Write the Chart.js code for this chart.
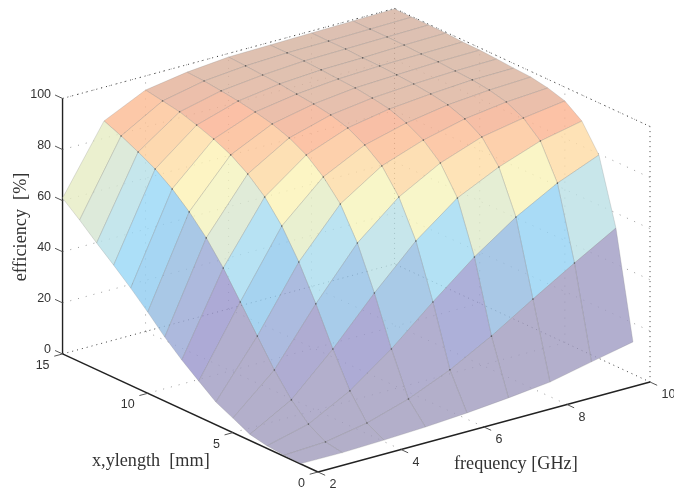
<!DOCTYPE html>
<html>
<head>
<meta charset="utf-8">
<style>
  html, body { margin: 0; padding: 0; background: #fff; }
  canvas { display: block; }
</style>
<script src="https://cdn.jsdelivr.net/npm/chart.js@4"></script>
</head>
<body>
<canvas id="myChart" width="674" height="493"></canvas>
<script>
const freqs = [2, 3, 4, 5, 6, 7, 8, 9, 10];
const lengths = [1, 2, 3, 4, 5, 6, 7, 8, 9, 10, 11, 12, 13, 14, 15];

// efficiency, one list per frequency, length 1..15
const eff2 = [0.2, 0.4, 1.0, 2.4, 5.7, 8.9, 14, 19.2, 25.1, 31.8, 38.1, 44, 49.6, 55.5, 61];
const eff3 = [0.1, 1.2, 5.1, 11.5, 20.1, 30.3, 40.6, 50.8, 59.5, 66.6, 72.5, 77.2, 80.8, 84, 86.8];
const eff4 = [0.6, 4.2, 13.7, 27, 41.6, 54.9, 65.9, 74.2, 80.1, 84.5, 87.6, 90, 92.1, 93.3, 94.5];
const eff5 = [1.3, 9.2, 25.7, 44.5, 61, 73.2, 80.7, 86.2, 89.8, 92.2, 93.8, 95, 95.9, 96.7, 97.1];
const eff6 = [2.4, 16.2, 39.7, 60.5, 74.6, 83.7, 88.8, 92.4, 94.4, 95.6, 96.4, 97.3, 97.7, 98.2, 98.6];
const eff7 = [3.9, 25, 52.9, 72.9, 83.5, 89.4, 93, 95.4, 96.6, 97.5, 97.9, 98.4, 98.8, 98.9, 98.9];
const eff8 = [5.7, 35.1, 64.1, 80.6, 89.3, 93.3, 95.7, 96.9, 97.7, 98.2, 98.6, 98.7, 99.1, 99.1, 99.2];
const eff9 = [9.2, 44.8, 73, 86.4, 92.3, 95.5, 97.1, 98, 98.4, 98.9, 98.9, 99.3, 99.4, 99.4, 99.5];
const eff10 = [12.6, 54.1, 79.6, 89.8, 94.6, 96.6, 97.8, 98.2, 98.7, 99.1, 99.2, 99.6, 99.7, 99.7, 99.8];
const effByFreq = [eff2, eff3, eff4, eff5, eff6, eff7, eff8, eff9, eff10];

const freqTicks = [2, 4, 6, 8, 10];
const lengthTicks = [0, 5, 10, 15];
const effTicks = [0, 20, 40, 60, 80, 100];

// colour stops for the pale jet look of the faces
const colorStops = [
  [0, 179, 175, 201], [9, 178, 175, 206], [14, 173, 170, 214], [19, 173, 184, 221],
  [25, 169, 200, 230], [32, 166, 214, 243], [38, 172, 223, 248], [44, 197, 230, 236],
  [50, 222, 234, 217], [55, 233, 240, 208], [60, 247, 246, 201], [66, 252, 245, 196],
  [72, 254, 229, 184], [77, 253, 217, 176], [84, 252, 200, 168], [88, 251, 191, 165],
  [92, 236, 191, 170], [96, 226, 193, 176], [100, 220, 192, 178],
];
const faceAlpha = 0.82;

function faceColor(z) {
  let i = 0;
  while (i < colorStops.length - 2 && z > colorStops[i + 1][0]) i++;
  const a = colorStops[i];
  const b = colorStops[i + 1];
  const t = Math.min(1, Math.max(0, (z - a[0]) / (b[0] - a[0])));
  const ch = [1, 2, 3].map(k => {
    const v = a[k] + (b[k] - a[k]) * t;
    return Math.round((v - 255 * (1 - faceAlpha)) / faceAlpha);
  });
  return `rgba(${ch[0]},${ch[1]},${ch[2]},${faceAlpha})`;
}

// fixed view of the box, Chart.js has no 3d axes
function project(f, l, z) {
  return {
    x: 318 + 41.5 * (f - 2) - 17.03 * l,
    y: 472 - 11.25 * (f - 2) - 7.87 * l - 2.555 * z,
  };
}

function lineSet(points, color, width, dash) {
  return {
    data: points,
    showLine: true,
    pointRadius: 0,
    borderColor: color,
    borderWidth: width,
    borderDash: dash || [],
    fill: false,
    tension: 0,
    clip: false,
  };
}

const sets = [];
const wallGrid = 'rgba(70,70,70,0.55)';
const boxDots = 'rgba(30,30,30,0.85)';

// walls and floor, behind the surface
effTicks.slice(1).forEach(z => {
  sets.push(lineSet([project(2, 15, z), project(10, 15, z), project(10, 0, z)], wallGrid, 1, [1, 7]));
});
freqTicks.slice(1, -1).forEach(f => {
  sets.push(lineSet([project(f, 15, 0), project(f, 15, 100)], wallGrid, 1, [1, 7]));
  sets.push(lineSet([project(f, 0, 0), project(f, 15, 0)], wallGrid, 1, [1, 7]));
});
lengthTicks.slice(1, -1).forEach(l => {
  sets.push(lineSet([project(10, l, 0), project(10, l, 100)], wallGrid, 1, [1, 7]));
  sets.push(lineSet([project(2, l, 0), project(10, l, 0)], wallGrid, 1, [1, 7]));
});
sets.push(lineSet([project(2, 15, 100), project(10, 15, 100), project(10, 0, 100), project(10, 0, 0)], boxDots, 1, [1, 4]));
sets.push(lineSet([project(2, 15, 0), project(10, 15, 0), project(10, 0, 0)], boxDots, 1, [1, 4]));
sets.push(lineSet([project(10, 15, 0), project(10, 15, 100)], boxDots, 1, [1, 4]));

// solid axes with their ticks
const axisColor = '#222';
sets.push(lineSet([project(2, 15, 0), project(2, 15, 100)], axisColor, 1.4));
sets.push(lineSet([project(2, 0, 0), project(2, 15, 0)], axisColor, 1.4));
sets.push(lineSet([project(2, 0, 0), project(10, 0, 0)], axisColor, 1.4));
const tickColor = '#555';
effTicks.forEach(z => sets.push(lineSet([project(2, 15, z), project(2, 15.44, z)], tickColor, 1)));
lengthTicks.forEach(l => sets.push(lineSet([project(2, l, 0), project(1.8, l, 0)], tickColor, 1)));
freqTicks.forEach(f => sets.push(lineSet([project(f, 0, 0), project(f, -0.42, 0)], tickColor, 1)));

// surface faces, far ones first. A face takes the colour of its lowest corner
for (let j = lengths.length - 2; j >= 0; j--) {
  for (let i = freqs.length - 2; i >= 0; i--) {
    const corners = [
      project(freqs[i], lengths[j], effByFreq[i][j]),
      project(freqs[i + 1], lengths[j], effByFreq[i + 1][j]),
      project(freqs[i + 1], lengths[j + 1], effByFreq[i + 1][j + 1]),
      project(freqs[i], lengths[j + 1], effByFreq[i][j + 1]),
      project(freqs[i], lengths[j], effByFreq[i][j]),
    ];
    const face = lineSet(corners, 'rgba(120,120,120,0.28)', 0.8);
    face.fill = 'shape';
    face.backgroundColor = faceColor(effByFreq[i][j]);
    sets.push(face);
  }
}

// small dark dots on the mesh corners
const meshDots = [];
freqs.slice(1, -1).forEach(f => {
  lengths.slice(1, -1).forEach(l => {
    meshDots.push(project(f, l, effByFreq[freqs.indexOf(f)][lengths.indexOf(l)]));
  });
});
sets.push({ data: meshDots, pointRadius: 0.8, pointBorderWidth: 0, backgroundColor: 'rgba(40,40,40,0.6)', clip: false });

// last in the list has to paint last
sets.forEach((s, i) => { s.order = sets.length - i; });

const textPlugin = {
  id: 'boxText',
  afterDraw(chart) {
    const c = chart.ctx;
    const sx = chart.scales.x;
    const sy = chart.scales.y;
    const put = (text, p, dx, dy, align) => {
      c.textAlign = align;
      c.fillText(text, sx.getPixelForValue(p.x) + dx, sy.getPixelForValue(p.y) + dy);
    };
    c.save();
    c.fillStyle = '#333';
    c.textBaseline = 'middle';
    c.font = '12.5px "Liberation Sans"';
    effTicks.forEach(z => put(String(z), project(2, 15, z), -11.5, -4, 'right'));
    lengthTicks.forEach(l => put(String(l), project(2, l, 0), -13, 11.5, 'right'));
    freqTicks.forEach(f => put(String(f), project(f, 0, 0), 11.5, 13, 'left'));

    c.textBaseline = 'alphabetic';
    c.font = '18.2px "Liberation Serif"';
    c.textAlign = 'left';
    c.fillText('x,ylength  [mm]', 92, 466);
    c.fillText('frequency [GHz]', 454, 469);
    c.translate(26, 227);
    c.rotate(-Math.PI / 2);
    c.textAlign = 'center';
    c.fillText('efficiency  [%]', 0, 0);
    c.restore();
  },
};

const ctx = document.getElementById('myChart').getContext('2d');
const myChart = new Chart(ctx, {
  type: 'scatter',
  data: { datasets: sets },
  options: {
    responsive: false,
    animation: false,
    events: [],
    layout: { padding: 0, autoPadding: false },
    plugins: { legend: { display: false }, tooltip: { enabled: false } },
    scales: {
      x: { type: 'linear', min: 0, max: 674, display: false },
      y: { type: 'linear', min: 0, max: 493, reverse: true, display: false },
    },
  },
  plugins: [textPlugin],
});
</script>
</body>
</html>
